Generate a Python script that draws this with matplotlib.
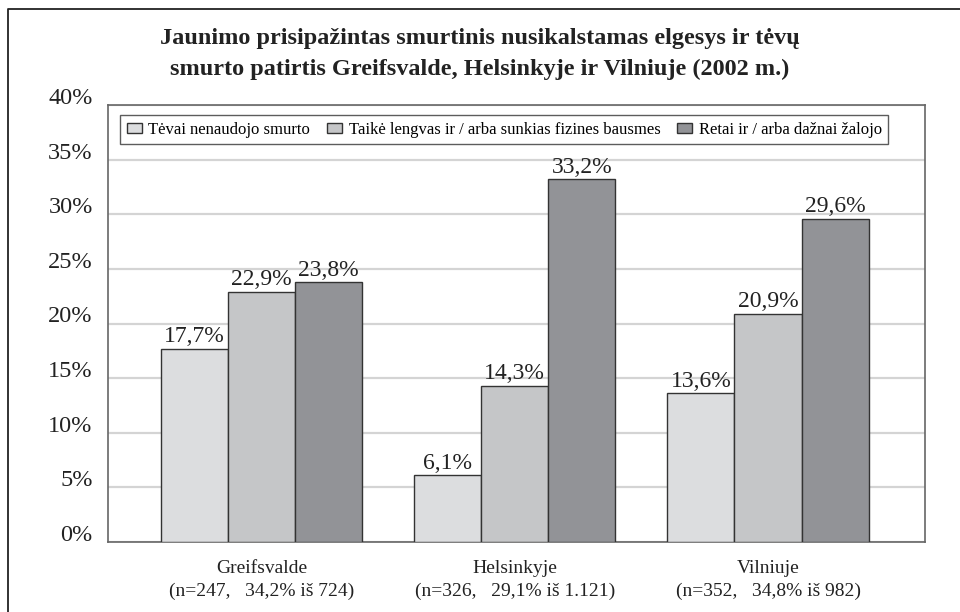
import matplotlib.pyplot as plt
import numpy as np
from matplotlib.lines import Line2D
from matplotlib.transforms import ScaledTranslation

cities = ["Greifsvalde", "Helsinkyje", "Vilniuje"]
city_notes = ["(n=247,   34,2% iš 724)", "(n=326,   29,1% iš 1.121)", "(n=352,   34,8% iš 982)"]
series_names = [
    "Tėvai nenaudojo smurto",
    "Taikė lengvas ir / arba sunkias fizines bausmes",
    "Retai ir / arba dažnai žalojo",
]
no_violence = [17.7, 6.1, 13.6]
physical_punishment = [22.9, 14.3, 20.9]
abuse = [23.8, 33.2, 29.6]
yticks = [0, 5, 10, 15, 20, 25, 30, 35, 40]

colors = ["#dcdddf", "#c5c6c8", "#929397"]

plt.rcParams["font.family"] = ["Liberation Serif", "DejaVu Serif"]

fig = plt.figure(figsize=(9.6, 6.12), dpi=100)
ax = fig.add_axes([108 / 960, 1 - 542 / 612, (925 - 108) / 960, (542 - 105) / 612])

x = np.arange(len(cities))
w = 0.265
for i, (vals, name) in enumerate(zip([no_violence, physical_punishment, abuse], series_names)):
    bars = ax.bar(x + (i - 1) * w, vals, w, color=colors[i], edgecolor="#333333",
                  linewidth=1.0, label=name, zorder=3)
    for b, v in zip(bars, vals):
        ax.annotate(f"{v:.1f}".replace(".", ",") + "%",
                    (b.get_x() + b.get_width() / 2, b.get_height()),
                    xytext=(0, 1), textcoords="offset points",
                    ha="center", va="bottom", fontsize=17, color="#222222", zorder=4)

ax.set_xlim(-0.607, 2.62)
ax.set_ylim(0, 40)
ax.set_yticks(yticks)
ax.set_yticklabels([f"{t}%" for t in yticks], fontsize=17.5, color="#222222")
ax.tick_params(axis="y", length=0, pad=11)
shift = ScaledTranslation(0, 9 / 100, fig.dpi_scale_trans)
for lab in ax.get_yticklabels():
    lab.set_transform(lab.get_transform() + shift)

ax.set_xticks(x)
ax.set_xticklabels([f"{c}\n{n}" for c, n in zip(cities, city_notes)],
                   fontsize=14, color="#222222", linespacing=1.45)
ax.tick_params(axis="x", length=0, pad=13)

ax.grid(axis="y", color="#d4d4d4", linewidth=1.6, zorder=0)
ax.set_axisbelow(True)
for s in ax.spines.values():
    s.set_color("#666666")
    s.set_linewidth(1.2)

leg = ax.legend(loc="upper left", ncol=3, fontsize=12, frameon=True, fancybox=False,
                edgecolor="#333333", borderpad=0.4, handlelength=0.9, handleheight=0.6,
                handletextpad=0.4, columnspacing=1.0, borderaxespad=0,
                bbox_to_anchor=(0.0147, 0.977))
leg.get_frame().set_linewidth(1.0)

fig.text(0.5, 1 - 54 / 612,
         "Jaunimo prisipažintas smurtinis nusikalstamas elgesys ir tėvų\n"
         "smurto patirtis Greifsvalde, Helsinkyje ir Vilniuje (2002 m.)",
         ha="center", va="center", fontsize=17.5, fontweight="bold",
         color="#222222", linespacing=1.55)

y_top = 1 - 9 / 612
fig.add_artist(Line2D([8 / 960, 8 / 960, 1], [0, y_top, y_top], color="#222222",
                      linewidth=1.3, transform=fig.transFigure))

fig.savefig("out.png", dpi=100)
